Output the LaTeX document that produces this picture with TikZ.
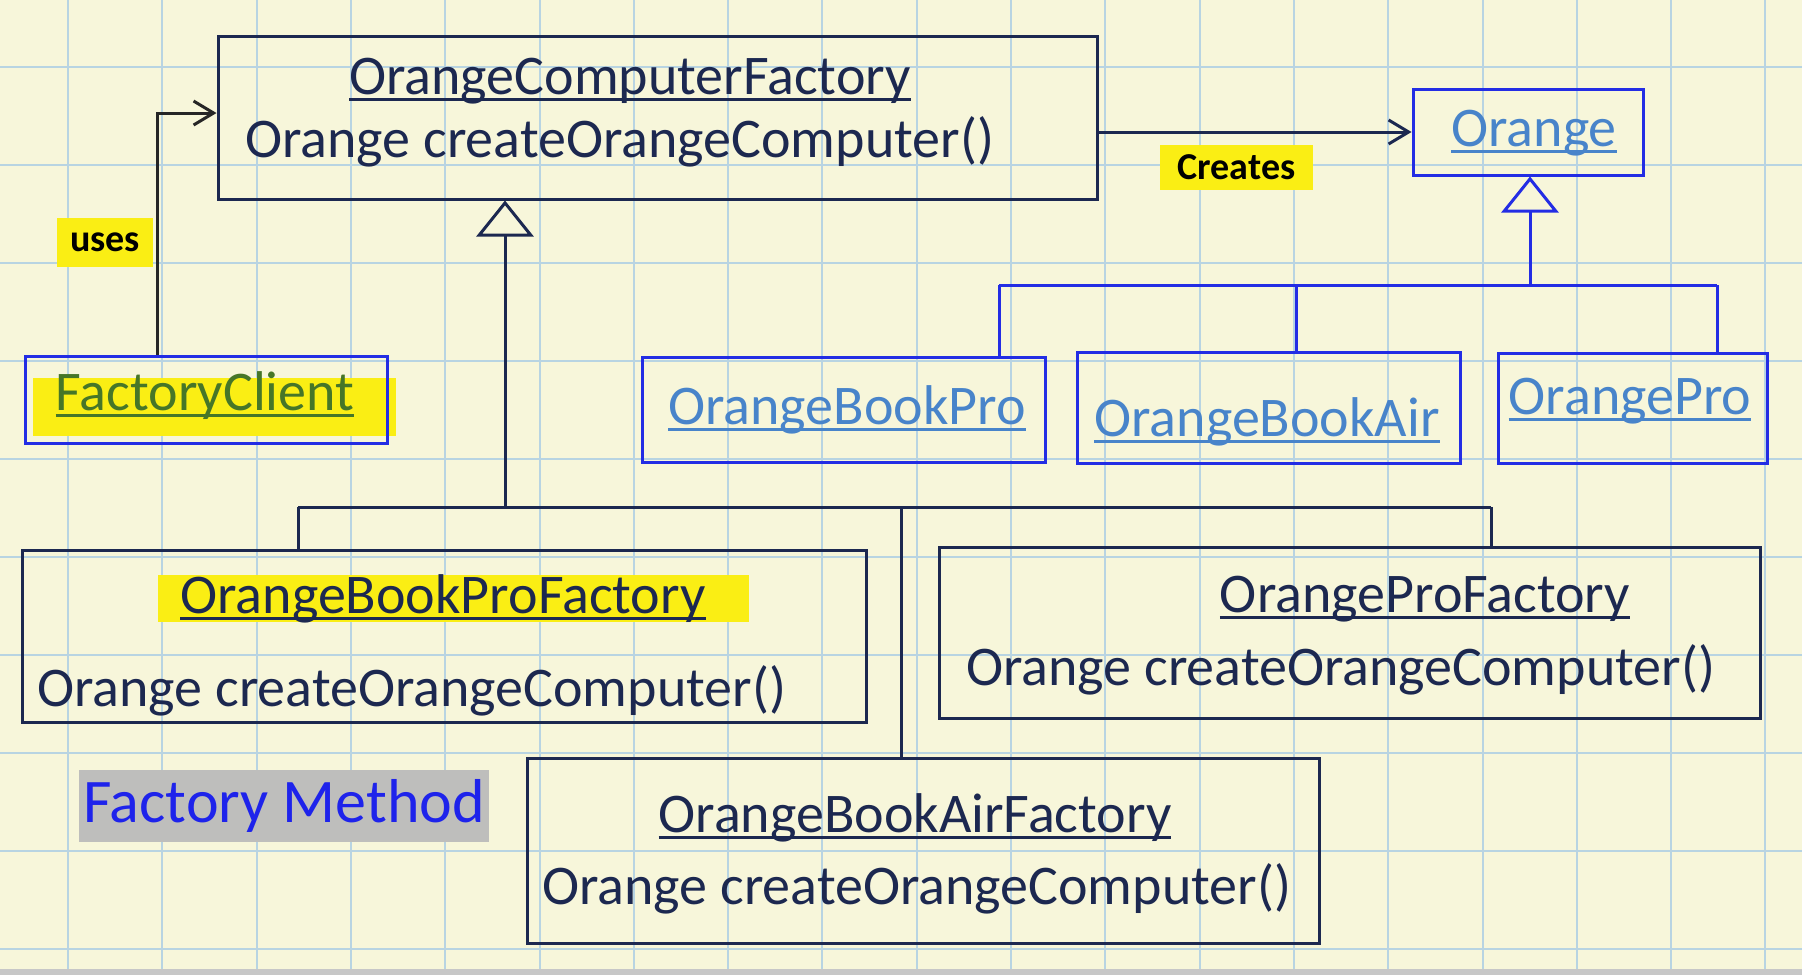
\documentclass[tikz,border=0pt]{standalone}
\usepackage{fontspec}
\setmainfont{Carlito}
\usetikzlibrary{arrows.meta}

\definecolor{bgcream}{RGB}{247,246,218}
\definecolor{gridblue}{RGB}{184,212,226}
\definecolor{navy}{RGB}{28,40,80}
\definecolor{boxblue}{RGB}{35,45,228}
\definecolor{lightblue}{RGB}{72,132,202}
\definecolor{hlyellow}{RGB}{250,238,20}
\definecolor{clientgreen}{RGB}{70,118,40}
\definecolor{fmblue}{RGB}{30,35,235}
\definecolor{fmgray}{RGB}{190,190,188}

% underline with a thicker rule
\newcommand{\ulname}[1]{\setbox0\hbox{#1}\rlap{\rule[-7pt]{\wd0}{3pt}}\box0}

\begin{document}
\begin{tikzpicture}[x=1pt, y=-1pt,
    factory/.style={draw=navy, line width=3pt, inner sep=0pt},
    product/.style={draw=boxblue, line width=3pt, inner sep=0pt},
    fname/.style={anchor=base, text=navy, inner sep=0pt, font=\fontsize{56}{60}\selectfont},
    fop/.style={anchor=base west, text=navy, inner sep=0pt, font=\fontsize{56}{60}\selectfont},
    pname/.style={anchor=base, text=lightblue, inner sep=0pt, font=\fontsize{56}{60}\selectfont},
    note/.style={fill=hlyellow, text=black, inner sep=0pt, font=\bfseries\fontsize{38}{40}\selectfont},
    link/.style={draw=navy, line width=3pt},
    plink/.style={draw=boxblue, line width=3pt},
    inherit/.style={-{Triangle[open, length=36pt, width=57pt]}},
    assoc/.style={-{Straight Barb[length=20pt, width=24pt]}, line width=3pt}
  ]
  \useasboundingbox (0,0) rectangle (1802,975);
  \fill[bgcream] (0,0) rectangle (1802,975);
  \foreach \i in {0,...,18}
    \draw[gridblue, line width=2pt] ({68+94.3*\i},0) -- ({68+94.3*\i},975);
  \foreach \j in {0,...,9}
    \draw[gridblue, line width=2pt] (0,{67+98*\j}) -- (1802,{67+98*\j});
  \fill[black!22] (0,969) rectangle (1802,975);

  % highlights
  \fill[hlyellow] (33,378) rectangle (396,436);
  \fill[hlyellow] (158,575) rectangle (749,622);

  % Nodes
  \node[factory, minimum width=879pt, minimum height=163pt] (ocf) at (657.5,117.5) {};
  \node[fname] (ocfName) at (630,94) {\ulname{OrangeComputerFactory}};
  \node[fop] (ocfOp) at (245,157) {Orange createOrangeComputer()};

  \node[product, minimum width=362pt, minimum height=87pt] (fc) at (206,399.5) {};
  \node[pname, text=clientgreen] (fcName) at (205,410) {\ulname{FactoryClient}};

  \node[product, minimum width=230pt, minimum height=86pt] (ora) at (1528,132) {};
  \node[pname] (oraName) at (1534,146) {\ulname{Orange}};

  \node[product, minimum width=403pt, minimum height=105pt] (obp) at (843.5,409.5) {};
  \node[pname] (obpName) at (847,424) {\ulname{OrangeBookPro}};
  \node[product, minimum width=383pt, minimum height=111pt] (oba) at (1268.5,407.5) {};
  \node[pname] (obaName) at (1267,436) {\ulname{OrangeBookAir}};
  \node[product, minimum width=269pt, minimum height=110pt] (op) at (1632.5,408) {};
  \node[pname] (opName) at (1630,414) {\ulname{OrangePro}};

  \node[factory, minimum width=844pt, minimum height=172pt] (bpf) at (444,636) {};
  \node[fname] (bpfName) at (443,613) {\ulname{OrangeBookProFactory}};
  \node[fop] (bpfOp) at (37,706) {Orange createOrangeComputer()};

  \node[factory, minimum width=821pt, minimum height=171pt] (opf) at (1349.5,632.5) {};
  \node[fname] (opfName) at (1425,612) {\ulname{OrangeProFactory}};
  \node[fop] (opfOp) at (966,685) {Orange createOrangeComputer()};

  \node[factory, minimum width=792pt, minimum height=185pt] (baf) at (923,850.5) {};
  \node[fname] (bafName) at (915,832) {\ulname{OrangeBookAirFactory}};
  \node[fop] (bafOp) at (542,904) {Orange createOrangeComputer()};

  \node[fill=fmgray, text=fmblue, inner sep=0pt, minimum width=410pt, minimum height=72pt,
        font=\fontsize{62}{64}\selectfont] (fm) at (284,806) {Factory Method};

  \node[note, minimum width=96pt, minimum height=49pt] (uses) at (105,242.5) {uses};
  \node[note, minimum width=153pt, minimum height=45pt] (creates) at (1236.5,167.5) {Creates};

  % Edges
  \coordinate (fTop) at (505,507);
  \coordinate (fL) at (298,507);
  \coordinate (fM) at (901,507);
  \coordinate (fR) at (1491,507);
  \draw[link, inherit] (fTop) -- (fTop |- ocf.south);
  \draw[link] (fL) -- (fR);
  \draw[link] (fL) -- (fL |- bpf.north);
  \draw[link] (fM) -- (fM |- baf.north);
  \draw[link] (fR) -- (fR |- opf.north);

  \coordinate (pTop) at (1530,285);
  \coordinate (pL) at (999,285);
  \coordinate (pM) at (1296,285);
  \coordinate (pR) at (1717,285);
  \draw[plink, inherit] (pTop) -- (pTop |- ora.south);
  \draw[plink] (pL) -- (pR);
  \draw[plink] (pL) -- (pL |- obp.north);
  \draw[plink] (pM) -- (pM |- oba.north);
  \draw[plink] (pR) -- (pR |- op.north);

  \coordinate (useBend) at (157,113);
  \draw[assoc, black!85] (useBend |- fc.north) -- (useBend) -- (useBend -| ocf.west);
  \draw[assoc, navy] (ocf.east |- ora.west) -- (ora.west);
\end{tikzpicture}
\end{document}
